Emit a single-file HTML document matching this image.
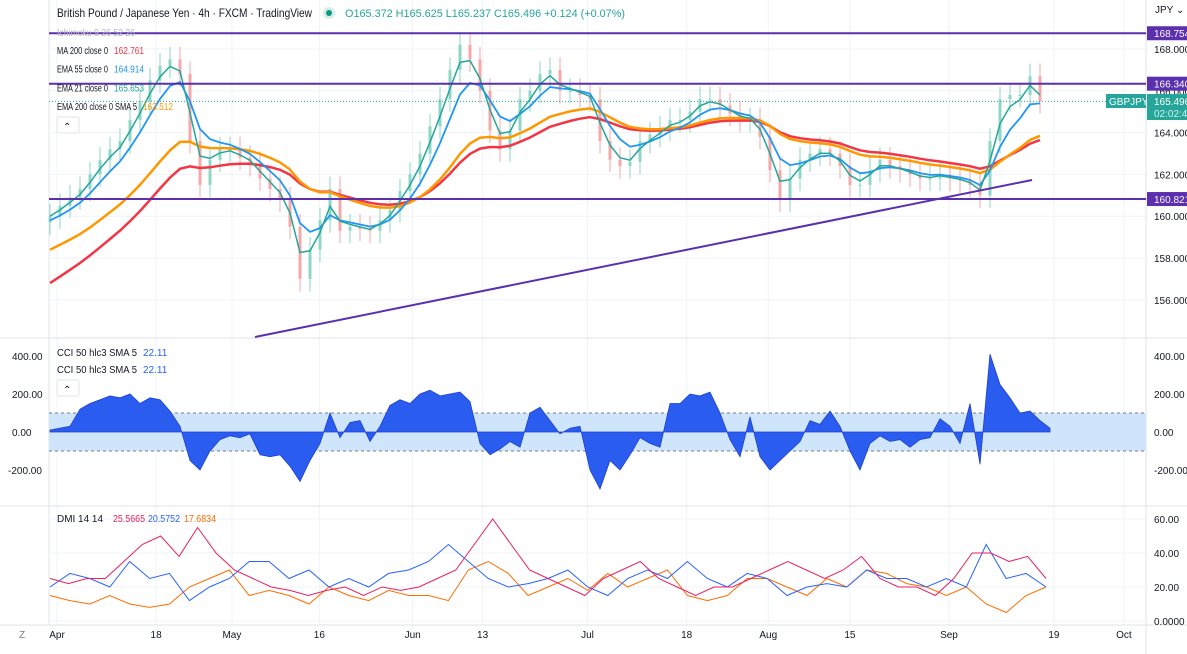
<!DOCTYPE html>
<html><head><meta charset="utf-8">
<style>
body{margin:0;background:#fff;font-family:"Liberation Sans",sans-serif;}
svg{display:block}
text{font-family:"Liberation Sans",sans-serif;}
</style></head>
<body>
<svg id="c" width="1187" height="654" viewBox="0 0 1187 654"></svg>
<script>
// ---- data ----
const priceClose=[160.0,160.5,160.9,161.3,162.0,162.7,163.2,163.6,164.6,165.5,166.5,167.2,167.5,166.8,163.6,161.5,162.7,163.2,163.2,162.8,162.5,161.8,161.3,160.8,159.5,157.0,158.4,159.8,161.3,159.3,159.5,159.4,159.3,159.8,160.3,161.2,162.0,163.0,164.3,165.6,167.0,168.2,167.5,166.0,164.1,163.2,164.1,165.6,166.0,166.8,167.0,166.0,166.0,165.8,165.6,163.6,162.7,162.4,162.6,163.6,163.9,164.2,164.6,164.6,165.0,165.6,165.6,165.3,164.9,164.6,164.6,163.8,162.2,160.8,161.8,162.7,163.0,163.2,163.0,162.4,161.5,161.5,162.2,162.7,162.4,162.2,162.0,161.8,161.8,162.0,161.8,161.7,161.5,161.0,163.6,165.6,165.8,165.8,166.7,165.5];
const cciValues=[10,20,30,120,150,170,190,180,200,150,180,170,110,30,-150,-200,-100,-40,-20,-30,-10,-120,-130,-120,-180,-260,-150,-60,100,-30,50,60,-50,30,140,170,150,200,220,190,200,210,160,-60,-120,-90,-50,-80,100,130,60,-10,20,30,-200,-300,-150,-200,-120,-30,-60,-80,150,150,200,190,210,100,-40,-130,80,-130,-200,-150,-100,-50,60,40,110,30,-100,-200,-60,-20,-50,-40,-80,-40,-30,70,30,-60,150,-170,410,250,180,100,110,60,20];
const dmiRed=[25,22,25,25,35,45,50,38,55,40,30,25,20,18,15,18,20,15,20,18,20,25,30,45,60,45,30,25,20,15,25,30,35,25,20,15,20,20,25,30,35,30,25,30,38,25,20,20,15,25,40,40,35,38,25];
const dmiBlue=[20,28,25,20,35,25,28,12,20,25,35,35,25,30,20,25,20,28,30,35,45,35,25,20,22,25,30,20,15,25,30,25,35,25,20,28,25,15,20,22,20,30,25,25,20,25,20,45,25,28,20];
const dmiOrange=[15,12,10,15,10,8,10,20,25,30,15,18,15,10,20,15,12,18,15,15,12,30,35,28,15,20,25,18,28,20,25,30,15,12,15,25,25,20,15,25,20,30,28,22,20,15,20,10,5,15,20];
const priceTicks=[168,166,164,162,160,158,156];
const cciTicks=[400,200,0,-200];
const dmiTicks=[60,40,20,0];
const dateLabels=["Apr","18","May","16","Jun","13","Jul","18","Aug","15","Sep","19","Oct"];
const dateDays=[0,17,30,45,61,73,91,108,122,136,153,171,183];
const levels=[168.754,166.340,160.821];
// ---- scales ----
const X0=50,STEP=10;
const xi=i=>X0+i*STEP;
const xDay=d=>57+d*5.83;
const yP=v=>49+(168-v)*20.9;
const yC=v=>432-v*0.19;
const yD=v=>621-v*1.7;
const svg=document.getElementById('c');
const NS="http://www.w3.org/2000/svg";
function el(t,a,p){const e=document.createElementNS(NS,t);for(const k in a)e.setAttribute(k,a[k]);(p||svg).appendChild(e);return e;}
function txt(s,x,y,a){const e=el('text',Object.assign({x:x,y:y,'font-size':10,fill:'#131722'},a||{}));e.textContent=s;return e;}
// grid
const grid=el('g',{stroke:'#f0f3fa','stroke-width':1});


priceTicks.forEach(v=>el('line',{x1:49,x2:1146,y1:yP(v),y2:yP(v)},grid));
dateDays.forEach(d=>el('line',{x1:xDay(d),x2:xDay(d),y1:0,y2:625},grid));
dmiTicks.forEach(v=>el('line',{x1:49,x2:1146,y1:yD(v),y2:yD(v)},grid));
// pane borders
el('line',{x1:49,x2:49,y1:0,y2:625,stroke:'#e0e3eb'});
el('line',{x1:1146,x2:1146,y1:0,y2:654,stroke:'#e0e3eb'});
el('line',{x1:0,x2:1187,y1:338,y2:338,stroke:'#e0e3eb'});
el('line',{x1:0,x2:1187,y1:506,y2:506,stroke:'#e0e3eb'});
el('line',{x1:0,x2:1187,y1:625,y2:625,stroke:'#e0e3eb'});
// candles
const cg=el('g',{});


priceClose.forEach((c,i)=>{
  const o=i?priceClose[i-1]:c-0.3;const up=c>=o;const col=up?'#8fd6c6':'#f5a8a8';
  const hi=Math.max(o,c)+0.6,lo=Math.min(o,c)-0.6;
  const x=xi(i);
  el('line',{x1:x,x2:x,y1:yP(hi),y2:yP(lo),stroke:col},cg);
  const r=el('rect',{x:x-1.5,y:yP(Math.max(o,c)),width:3,height:Math.max(1,Math.abs(yP(o)-yP(c))),fill:col},cg);
  
  
});
// moving averages (derived from data)
function ema(arr,alpha,seed){let e=seed;return arr.map(v=>{e=e+alpha*(v-e);return e;});}
function line(vals,yf,col,w,name){
  const d=vals.map((v,i)=>(i?'L':'M')+xi(i).toFixed(1)+','+yf(v).toFixed(1)).join('');
  const p=el('path',{d:d,fill:'none',stroke:col,'stroke-width':w});
  
  
  return p;
}
line(ema(priceClose,0.085,156.5),yP,'#f23645',2.5,'ma200-line');
line(ema(priceClose,0.11,158.2),yP,'#ff9800',2.5,'ema200-sma5-line');
line(ema(priceClose,0.33,159.7),yP,'#2196f3',1.8,'ema55-line');
line(ema(priceClose,0.6,160),yP,'#26a69a',1.5,'ema21-line');
// horizontal levels and trend line
levels.forEach(v=>{const l=el('line',{x1:49,x2:1146,y1:yP(v),y2:yP(v),stroke:'#5b2fad','stroke-width':2});

});
const tl=el('line',{x1:255,y1:337,x2:1032,y2:180,stroke:'#5b2fad','stroke-width':2});


el('line',{x1:49,x2:1146,y1:yP(165.496),y2:yP(165.496),stroke:'#26a69a','stroke-dasharray':'1,2'});
// header
const tt=txt('British Pound / Japanese Yen · 4h · FXCM · TradingView',57,17,{'font-size':12,textLength:255,lengthAdjust:'spacingAndGlyphs'});


el('circle',{cx:329,cy:13,r:6,fill:'#d4efe9'});el('circle',{cx:329,cy:13,r:3,fill:'#089981'});
const oh=txt('O165.372  H165.625  L165.237  C165.496  +0.124 (+0.07%)',345,17,{'font-size':11,fill:'#26a69a',textLength:280,lengthAdjust:'spacingAndGlyphs'});


txt('Ichimoku 9 26 52 26',57,36,{fill:'#b2b5be',textLength:78,lengthAdjust:'spacingAndGlyphs'});
const leg=[['MA 200 close 0','162.761','#f23645',51,114],['EMA 55 close 0','164.914','#2196f3',51,114],['EMA 21 close 0','165.653','#26a69a',51,114],['EMA 200 close 0 SMA 5','163.512','#ff9800',80,143]];
leg.forEach((l,i)=>{const t=txt(l[0],57,54+i*18.7,{fill:'#131722',textLength:l[3],lengthAdjust:'spacingAndGlyphs'});


txt(l[1],l[4],54+i*18.7,{fill:l[2],textLength:30,lengthAdjust:'spacingAndGlyphs'});});
const cb=el('rect',{x:57,y:117,width:22,height:16,rx:2,fill:'#fff',stroke:'#e0e3eb'});


txt('⌃',63,130,{'font-size':10});
// right price axis
txt('JPY ⌄',1155,13,{'font-size':10});
priceTicks.forEach(v=>txt(v.toFixed(3),1154,yP(v)+4,{'font-size':10}));
levels.forEach(v=>{el('rect',{x:1147,y:yP(v)-7,width:40,height:14,fill:'#5b2fad'});txt(v.toFixed(3),1154,yP(v)+4,{'font-size':10,fill:'#fff'});});
const sl=el('rect',{x:1106,y:94,width:40,height:14,fill:'#26a69a'});


txt('GBPJPY',1109,105,{'font-size':10,fill:'#fff'});
el('rect',{x:1147,y:94,width:40,height:26,fill:'#26a69a'});
txt('165.496',1154,105,{'font-size':10,fill:'#fff'});txt('02:02:4',1154,117,{'font-size':10,fill:'#d0f0ea'});
// CCI pane
const band=el('rect',{x:49,y:yC(100),width:1097,height:yC(-100)-yC(100),fill:'#cfe5fb'});


[100,-100].forEach(v=>el('line',{x1:49,x2:1146,y1:yC(v),y2:yC(v),stroke:'#787b86','stroke-dasharray':'3,3'}));
(function(){let d='M'+xi(0)+','+yC(0);cciValues.forEach((v,i)=>{d+='L'+xi(i).toFixed(1)+','+yC(v).toFixed(1);});d+='L'+xi(cciValues.length-1)+','+yC(0)+'Z';
const p=el('path',{d:d,fill:'#2a5cf0',stroke:'#1e40d0','stroke-width':0.8});})();
txt('CCI 50 hlc3 SMA 5',57,356,{fill:'#131722',textLength:80,lengthAdjust:'spacingAndGlyphs'});txt('22.11',143,356,{fill:'#2962ff'});
txt('CCI 50 hlc3 SMA 5',57,373,{fill:'#131722',textLength:80,lengthAdjust:'spacingAndGlyphs'});txt('22.11',143,373,{fill:'#2962ff'});
el('rect',{x:57,y:380,width:22,height:16,rx:2,fill:'#fff',stroke:'#e0e3eb'});txt('⌃',63,393,{'font-size':10});
cciTicks.forEach(v=>{txt(v.toFixed(2),1154,yC(v)+4);txt(v.toFixed(2),v<0?8:12,yC(v)+4);});
// DMI pane
function seriesLine(vals,col,name){const n=vals.length;const d=vals.map((v,i)=>(i?'L':'M')+(50+i*(996/(n-1))).toFixed(1)+','+yD(v).toFixed(1)).join('');
const p=el('path',{d:d,fill:'none',stroke:col,'stroke-width':1});}
seriesLine(dmiOrange,'#ff6d00','dmi-adx-line');
seriesLine(dmiBlue,'#2962ff','dmi-minus-line');
seriesLine(dmiRed,'#e91e63','dmi-plus-line');
txt('DMI 14 14',57,522,{textLength:46,lengthAdjust:'spacingAndGlyphs'});
txt('25.5665',113,522,{fill:'#e91e63',textLength:32,lengthAdjust:'spacingAndGlyphs'});
txt('20.5752',148,522,{fill:'#2962ff',textLength:32,lengthAdjust:'spacingAndGlyphs'});
txt('17.6834',184,522,{fill:'#ff6d00',textLength:32,lengthAdjust:'spacingAndGlyphs'});
dmiTicks.forEach(v=>txt(v?v.toFixed(2):'0.0000',1154,yD(v)+4));
// time axis
txt('Z',19,638,{'font-size':10,fill:'#787b86'});
dateLabels.forEach((s,i)=>{const t=txt(s,xDay(dateDays[i]),638,{'font-size':10,'text-anchor':'middle'});

});
</script>
</body></html>
